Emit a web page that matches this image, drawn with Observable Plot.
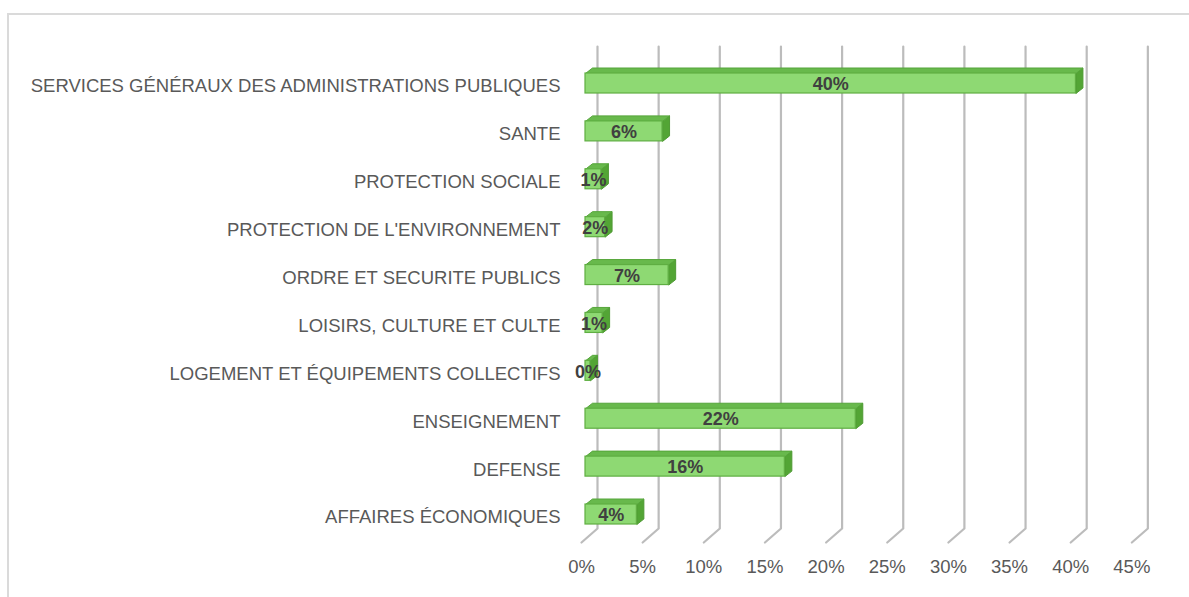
<!DOCTYPE html>
<html>
<head>
<meta charset="utf-8">
<script src="https://cdn.jsdelivr.net/npm/d3@7"></script>
<script src="https://cdn.jsdelivr.net/npm/@observablehq/plot@0.6"></script>
<style>
  html, body { margin: 0; padding: 0; overflow: hidden; background: #fff; }
  #wrap { position: relative; width: 1189px; height: 597px; }
  #frame { position: absolute; left: 7px; top: 13px; width: 1300px; height: 700px;
           border-left: 2px solid #dadada; border-top: 2px solid #dadada; }
  #chart { position: absolute; left: 0; top: 0; }
</style>
</head>
<body>
<div id="wrap"><div id="frame"></div><div id="chart"></div></div>
<script>
// ---- data (display order, top to bottom) ----
const categories = [
  "SERVICES GÉNÉRAUX DES ADMINISTRATIONS PUBLIQUES",
  "SANTE",
  "PROTECTION SOCIALE",
  "PROTECTION DE L'ENVIRONNEMENT",
  "ORDRE ET SECURITE PUBLICS",
  "LOISIRS, CULTURE ET CULTE",
  "LOGEMENT ET ÉQUIPEMENTS COLLECTIFS",
  "ENSEIGNEMENT",
  "DEFENSE",
  "AFFAIRES ÉCONOMIQUES"
];
const shares = [40.1, 6.3, 1.3, 1.6, 6.8, 1.4, 0.4, 22.1, 16.3, 4.2];
const xTicks = [0, 5, 10, 15, 20, 25, 30, 35, 40, 45];

const data = categories.map((c, i) => ({i, c, v: shares[i]}));

// ---- geometry (pixels) ----
const x0px = 585, kx = 12.23;           // px per percent
const y0px = 83, y9px = 514, ky = (y9px - y0px) / 9;
const px = p => p / kx, py = p => p / ky;
const half = py(10), bdx = px(7), bdy = py(5.5);   // bar half-height, bar depth
const wallDx = px(12), floorDx = px(-4);          // back wall / front floor offsets
const wallTop = py(46 - y0px), wallBot = py(528 - y0px), floorY = py(542 - y0px);

// polygons for 3D faces
const tops = [], sides = [];
for (const d of data) {
  const t = d.i - half, b = d.i + half;
  tops.push({z: d.i, x: 0, y: t}, {z: d.i, x: d.v, y: t},
            {z: d.i, x: d.v + bdx, y: t - bdy}, {z: d.i, x: bdx, y: t - bdy}, {z: d.i, x: 0, y: t});
  sides.push({z: d.i, x: d.v, y: t}, {z: d.i, x: d.v + bdx, y: t - bdy},
             {z: d.i, x: d.v + bdx, y: b - bdy}, {z: d.i, x: d.v, y: b}, {z: d.i, x: d.v, y: t});
}
const grid = [];
for (const t of xTicks) {
  grid.push({z: t, x: t + wallDx, y: wallTop}, {z: t, x: t + wallDx, y: wallBot},
            {z: t, x: t + floorDx, y: floorY});
}

const chart = Plot.plot({
  width: 1189, height: 597,
  marginLeft: 570, marginRight: 0, marginTop: 0, marginBottom: 52,
  style: {fontFamily: "'Liberation Sans', Arial, sans-serif", fontSize: "18.5px", color: "#595959", background: "transparent"},
  x: {domain: [0, 45], range: [x0px, x0px + 45 * kx]},
  y: {domain: [0, 9], range: [y0px, y9px]},
  marks: [
    Plot.line(grid, {x: "x", y: "y", z: "z", stroke: "#bcbcbc", strokeWidth: 2.2, curve: "linear"}),
    Plot.line(sides, {x: "x", y: "y", z: "z", fill: "#53a535", stroke: "#4e9a33", strokeWidth: 1}),
    Plot.line(tops, {x: "x", y: "y", z: "z", fill: "#68b94c", stroke: "#55a53a", strokeWidth: 1}),
    Plot.rect(data, {x1: 0, x2: "v", y1: d => d.i - half, y2: d => d.i + half,
                     fill: "#8ed973", stroke: "#5fae42", strokeWidth: 1.2}),
    Plot.text(data, {x: d => d.v / 2, y: "i", text: d => Math.round(d.v) + "%",
                     fontWeight: "bold", fontSize: 18, fill: "#404040", dy: 1}),
    Plot.axisY(d3.range(categories.length), {anchor: "left", tickSize: 0, tickPadding: 10,
                     tickFormat: i => categories[i], fontSize: 18.5, dy: 3}),
    Plot.axisX(xTicks, {anchor: "bottom", tickSize: 0, tickPadding: 14,
                     tickFormat: d => d + "%", fontSize: 18.5, dx: -4})
  ]
});
document.getElementById("chart").appendChild(chart);
</script>
</body>
</html>
